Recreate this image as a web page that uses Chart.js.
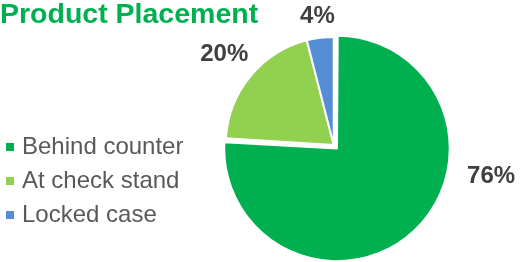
<!DOCTYPE html>
<html>
<head>
<meta charset="utf-8">
<script src="https://cdn.jsdelivr.net/npm/chart.js@4.4.1/dist/chart.umd.min.js"></script>
<style>
  html, body { margin: 0; padding: 0; background: #fff; }
  #wrap { width: 521px; height: 262px; position: relative; }
</style>
</head>
<body>
<div id="wrap"><canvas id="c"></canvas></div>
<script>
// chart data
const categories = ['Behind counter', 'At check stand', 'Locked case'];
const shares = [76, 20, 4];
const sliceColors = ['#00B050', '#92D050', '#558ED5'];
const chartTitle = 'Product Placement';

const FONT = "'Liberation Sans', Arial, sans-serif";

// percent labels just outside each slice, placed from the arc geometry.
// the big slice's label sits off to the right, like in the source deck
const pctLabels = {
  id: 'pctLabels',
  afterDatasetsDraw(chart, args, opts){
    const ctx = chart.ctx;
    const meta = chart.getDatasetMeta(0);
    const total = shares.reduce((a, b) => a + b, 0);
    const biggest = shares.indexOf(Math.max(...shares));
    ctx.save();
    ctx.font = 'bold 24px ' + FONT;
    ctx.fillStyle = '#404040';
    ctx.textAlign = 'center';
    ctx.textBaseline = 'middle';
    meta.data.forEach((arc, i) => {
      const p = arc.getProps(['x', 'y', 'startAngle', 'endAngle', 'outerRadius'], true);
      const text = Math.round(shares[i] / total * 100) + '%';
      let ang, dist;
      if(i === biggest){
        ang = opts.bigDeg * Math.PI / 180;
        dist = opts.bigDist;
      } else {
        ang = (p.startAngle + p.endAngle) / 2;
        const hw = ctx.measureText(text).width / 2, hh = 12;
        dist = p.outerRadius - 1 + opts.gap + hw * Math.abs(Math.cos(ang)) + hh * Math.abs(Math.sin(ang));
      }
      ctx.fillText(text, p.x + Math.cos(ang) * dist, p.y + Math.sin(ang) * dist);
    });
    ctx.restore();
  }
};

const baseLabels = Chart.overrides.doughnut.plugins.legend.labels.generateLabels;

new Chart(document.getElementById('c'), {
  type: 'pie',
  data: {
    labels: categories,
    datasets: [{
      data: shares,
      backgroundColor: sliceColors,
      borderColor: '#ffffff',
      borderWidth: 2,
      offset: [19, 0, 0],
      radius: 108,
      clip: false
    }]
  },
  options: {
    responsive: true,
    maintainAspectRatio: false,
    animation: false,
    layout: { padding: { left: 0, right: 47, top: 0, bottom: 25 } },
    plugins: {
      title: {
        display: true,
        text: chartTitle,
        align: 'start',
        color: '#00B050',
        font: { family: FONT, size: 28.5, weight: 'bold', lineHeight: 1 },
        padding: { top: 1, bottom: 23.5 }
      },
      legend: {
        position: 'left',
        align: 'end',
        labels: {
          font: { family: FONT, size: 24 },
          color: '#595959',
          usePointStyle: true,
          pointStyle: 'rect',
          boxWidth: 0.01,
          boxHeight: 8,
          padding: 10,
          generateLabels(chart){
            return baseLabels(chart).map(l => Object.assign(l, { lineWidth: 0 }));
          }
        }
      },
      tooltip: { enabled: false },
      pctLabels: { gap: 9, bigDeg: 11.1, bigDist: 160.4 }
    }
  },
  plugins: [pctLabels]
});
</script>
</body>
</html>
